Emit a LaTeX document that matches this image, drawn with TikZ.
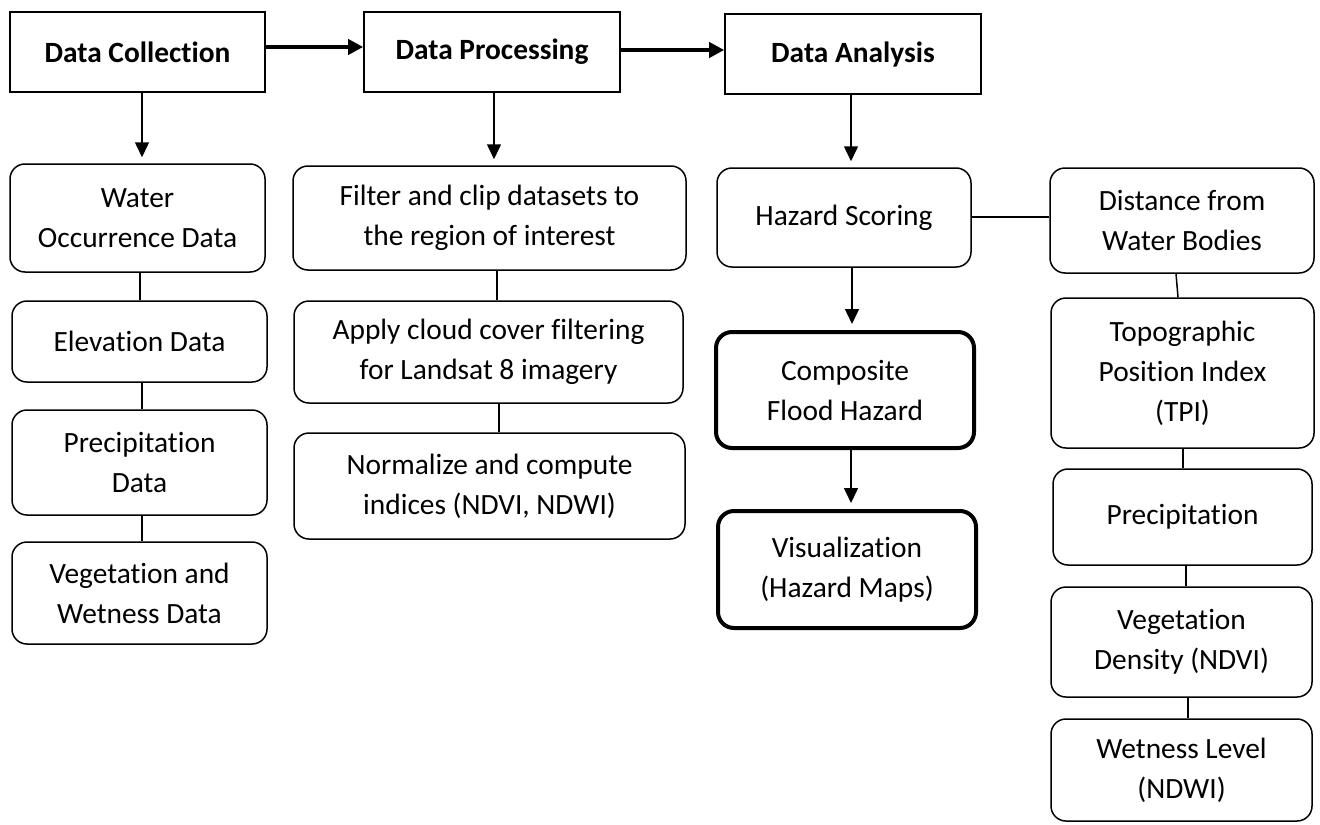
\documentclass[tikz,border=0pt]{standalone}
\usepackage{fontspec}
\setmainfont{Carlito}[Ligatures=NoCommon]
\usetikzlibrary{arrows.meta,calc}
\newcommand\bx[7]{\node[#2, minimum width={(#5-#3)*0.5pt}, minimum height={(#6-#4)*0.5pt}] (#1) at ({(#3+#5)/2},{(#4+#6)/2}) {#7};}
\begin{document}
\begin{tikzpicture}[x=0.5pt,y=-0.5pt,
  every node/.style={font=\fontsize{14.7}{20}\selectfont, align=center, inner sep=0pt},
  sqbox/.style={draw, line width=0.8pt, font=\fontsize{14.7}{20}\selectfont\bfseries},
  rbox/.style={draw, line width=0.75pt, rounded corners=7.5pt},
  tbox/.style={draw, line width=2pt, rounded corners=8pt},
  link/.style={line width=0.75pt},
  darr/.style={line width=0.75pt, -{Triangle[length=7.5pt,width=7pt]}, shorten >=3pt},
  harr/.style={line width=2pt, -{Triangle[length=7.5pt,width=7.5pt]}},
]
\fill[white] (0,0) rectangle (1320,824);
\useasboundingbox (0,0) rectangle (1320,824);

% top row
\bx{dc}{sqbox}{10}{12}{265}{92}{Data Collection}
\bx{dp}{sqbox}{364}{12}{620}{92}{Data Processing}
\bx{da}{sqbox}{725}{14}{981}{94}{Data Analysis}

% left column
\bx{water}{rbox}{10}{164}{265}{272}{Water\\Occurrence Data}
\bx{elev}{rbox}{12}{301}{267}{382}{Elevation Data}
\bx{precd}{rbox}{12}{410}{267}{515}{Precipitation\\Data}
\bx{vegw}{rbox}{12}{542}{267}{644}{Vegetation and\\Wetness Data}

% middle column
\bx{filter}{rbox}{293}{166}{686}{270}{Filter and clip datasets to\\the region of interest}
\bx{apply}{rbox}{294}{301}{683}{403}{Apply cloud cover filtering\\for Landsat 8 imagery}
\bx{norm}{rbox}{294}{433}{685}{539}{Normalize and compute\\indices (NDVI, NDWI)}

% analysis column
\bx{haz}{rbox}{717}{168}{971}{267}{Hazard Scoring}
\bx{comp}{tbox}{716}{332}{974}{448}{Composite\\Flood Hazard}
\bx{vis}{tbox}{718}{511}{976}{628}{Visualization\\(Hazard Maps)}

% right column
\bx{dist}{rbox}{1050}{168}{1314}{273}{Distance from\\Water Bodies}
\bx{tpi}{rbox}{1051}{298}{1314}{448}{Topographic\\Position Index\\(TPI)}
\bx{precr}{rbox}{1053}{469}{1312}{565}{Precipitation}
\bx{vegd}{rbox}{1051}{587}{1312}{697}{Vegetation\\Density (NDVI)}
\bx{wet}{rbox}{1051}{719}{1312}{821}{Wetness Level\\(NDWI)}

% horizontal thick arrows
\draw[harr] (dc.east |- 0,47) -- (dp.west |- 0,47);
\draw[harr] (dp.east |- 0,50) -- (da.west |- 0,50);

% down arrows
\draw[darr] (dc.south -| 142,0) -- (water.north -| 142,0);
\draw[darr] (dp.south -| 494,0) -- (filter.north -| 494,0);
\draw[darr] (da.south -| 851,0) -- (haz.north -| 851,0);
\draw[darr] (haz.south -| 852,0) -- (comp.north -| 852,0);
\draw[darr] (comp.south -| 851,0) -- (vis.north -| 851,0);

% plain links
\draw[link] (water.south -| 140,0) -- (elev.north -| 140,0);
\draw[link] (elev.south -| 142,0) -- (precd.north -| 142,0);
\draw[link] (precd.south -| 142,0) -- (vegw.north -| 142,0);
\draw[link] (filter.south -| 497,0) -- (apply.north -| 497,0);
\draw[link] (apply.south -| 499,0) -- (norm.north -| 499,0);
\draw[link] (haz.east |- 0,217) -- (dist.west |- 0,217);
\draw[link] (dist.south -| 1176,0) -- (tpi.north -| 1178,0);
\draw[link] (tpi.south -| 1183,0) -- (precr.north -| 1183,0);
\draw[link] (precr.south -| 1186,0) -- (vegd.north -| 1186,0);
\draw[link] (vegd.south -| 1188,0) -- (wet.north -| 1188,0);
\end{tikzpicture}
\end{document}
